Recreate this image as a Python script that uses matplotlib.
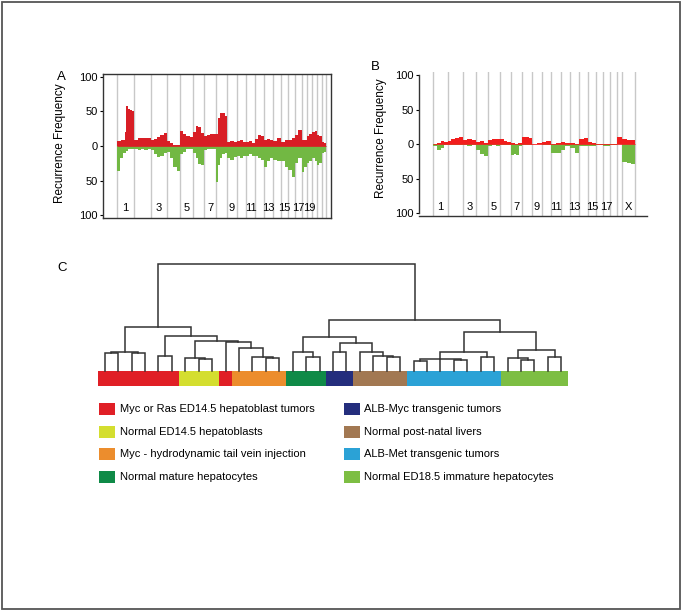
import numpy as np
import matplotlib
matplotlib.use("Agg")
import matplotlib.pyplot as plt
from matplotlib.patches import Rectangle

plt.rcParams.update({
    "font.family": ["Liberation Sans", "DejaVu Sans"],
    "font.size": 8,
})

W, H = 683, 612

# ---- panel A: chromosome widths (relative) and gain / loss frequencies ----
chrom_w_a = [17.6, 16.7, 15.7, 13.3, 12.7, 11.3, 12.0, 10.7, 10.6, 8.7, 9.0,
             9.0, 9.3, 7.4, 7.6, 6.7, 6.7, 5.0, 5.0, 5.6, 4.4, 4.3]
labels_a = ["1", "", "3", "", "5", "", "7", "", "9", "", "11", "", "13", "",
            "15", "", "17", "", "19", "", "", ""]
gain_a = [
    [7, 7, 8, 8, 20, 58, 54, 52, 50],
    [9, 11, 12, 12, 11],
    [8, 10, 13, 16, 19],
    [7, 4, 2, 2],
    [21, 17, 14, 13],
    [20, 29, 27, 19],
    [14, 16, 17, 18],
    [18, 40, 48, 47, 43],
    [6, 7, 6],
    [7, 8, 6],
    [6, 7, 5],
    [10, 16, 14],
    [8, 10, 8],
    [7, 12],
    [6, 9],
    [9, 11],
    [16, 23],
    [8, 8],
    [14, 18],
    [20, 21],
    [16, 14],
    [6, 5],
]
loss_a = [
    [-36, -18, -10, -7, -5, -5],
    [-5, -6, -4, -6, -5],
    [-6, -12, -16, -14, -10],
    [-8, -18, -30, -36],
    [-12, -8, -5, -5],
    [-10, -18, -26, -28],
    [-6, -5, -5, -4],
    [-52, -28, -18, -12, -10],
    [-18, -20, -16],
    [-15, -18, -14],
    [-14, -12, -15],
    [-15, -18, -20],
    [-30, -22, -18],
    [-20, -22],
    [-22, -30],
    [-35, -45],
    [-25, -18],
    [-38, -30],
    [-25, -22],
    [-18, -22],
    [-28, -25],
    [-10, -8],
]

# ---- panel B ----
chrom_w_b = [14.4, 15.0, 13.3, 12.3, 11.7, 11.0, 10.7, 10.6, 9.4, 9.3, 9.7,
             9.3, 9.3, 9.0, 7.7, 7.3, 6.7, 6.7, 5.6, 12.7]
labels_b = ["1", "", "3", "", "5", "", "7", "", "9", "", "11", "", "13", "",
            "15", "", "17", "", "", "X"]
gain_b = [
    [1, 2, 5, 3], [5, 8, 9, 10], [6, 7, 6], [3, 4, 2], [6, 8, 7],
    [8, 5, 3], [2, 1, 2], [10, 11, 9], [1, 2], [3, 4], [1, 2], [3, 2],
    [2, 1], [8, 9], [3, 2], [1, 1], [1, 1], [1, 1], [10, 11], [7, 6, 6],
]
loss_b = [
    [-2, -8, -6, -1], [-1, -1, -1], [-1, -2, -1], [-8, -14, -17],
    [-2, -1, -2], [-1, -1, -1], [-15, -14, -16, -2], [-1, -1], [0, 0],
    [-1, -1], [-12, -13], [-8, -2], [-5, -12], [-3, -2], [-2, -2],
    [-1, -1], [-3, -2], [-1, -1], [0, 0], [-25, -27, -28],
]

# ---- panel C: dendrogram merges (left, right, height); leaves 0..34 ----
merges = [
    (0, 1, 17.7), (2, 3, 18.3), (35, 36, 19.3), (4, 5, 15.0),
    (7, 8, 11.7), (6, 39, 12.7), (12, 13, 13.5), (11, 41, 14.3),
    (10, 42, 22.7), (9, 43, 29.3), (40, 44, 30.3), (38, 45, 34.7),
    (37, 46, 43.7), (15, 16, 14.3), (14, 48, 18.7), (17, 18, 19.3),
    (21, 22, 14.3), (20, 51, 15.3), (19, 52, 19.3), (50, 53, 27.7),
    (49, 54, 34.3), (23, 24, 10.3), (26, 27, 11.0), (56, 57, 12.0),
    (58, 25, 12.5), (28, 29, 14.3), (59, 60, 19.3), (31, 32, 11.0),
    (30, 62, 12.7), (33, 34, 14.3), (63, 64, 21.0), (61, 65, 39.3),
    (55, 66, 51.0), (47, 67, 107.0),
]
groups = ["Myc or Ras ED14.5 hepatoblast tumors", "Normal ED14.5 hepatoblasts",
          "Myc - hydrodynamic tail vein injection", "Normal mature hepatocytes",
          "ALB-Myc transgenic tumors", "Normal post-natal livers",
          "ALB-Met transgenic tumors", "Normal ED18.5 immature hepatocytes"]
group_colors = ["#E01F26", "#D4DE2F", "#EC8D2D", "#0F8A47",
                "#242E7D", "#A27852", "#2BA2D6", "#7DBE43"]
leaf_groups = [0] * 6 + [1] * 3 + [0] + [2] * 4 + [3] * 3 + [4] * 2 + [5] * 4 + [6] * 7 + [7] * 5


def px_axes(fig, x0, y0, x1, y1):
    return fig.add_axes([x0 / W, 1 - y1 / H, (x1 - x0) / W, (y1 - y0) / H])


def draw_profile(ax, widths, gains, losses, labels, red, green, ylab_y):
    edges = np.concatenate([[0], np.cumsum(widths)])
    for i, w in enumerate(widths):
        for vals, col in ((gains[i], red), (losses[i], green)):
            n = len(vals)
            xs = edges[i] + w * np.arange(n + 1) / n
            ys = list(vals) + [vals[-1]]
            ax.fill_between(xs, ys, step="post", color=col, lw=0, zorder=2)
        if labels[i]:
            ax.text(edges[i] + w / 2, ylab_y, labels[i], ha="center",
                    va="center", fontsize=8, zorder=3)
    ax.vlines(edges, -110, 110, color="#c8c8c8", lw=1.0, zorder=1)
    ax.hlines(0, edges[0], edges[-1], color=red, lw=0.6, zorder=2)
    ax.set_xticks([])
    ax.set_yticks([-100, -50, 0, 50, 100])
    ax.set_yticklabels(["100", "50", "0", "50", "100"])
    ax.tick_params(axis="y", length=2.5, pad=1.5, width=0.8, labelsize=8)


fig = plt.figure(figsize=(W / 100, H / 100), dpi=100)

ov = fig.add_axes([0, 0, 1, 1])
ov.set_xlim(0, W)
ov.set_ylim(H, 0)
ov.axis("off")
ov.add_patch(Rectangle((1.5, 1.5), 678, 607, fill=False, ec="#555555", lw=1.3))

# panel A
axA = px_axes(fig, 103, 74, 331, 218)
draw_profile(axA, chrom_w_a, gain_a, loss_a, labels_a, "#D81E25", "#72B843", -90)
axA.set_xlim(-13.7, 214.3)
axA.set_ylim(-104, 104)
for s in axA.spines.values():
    s.set_linewidth(1.0)
    s.set_color("#333333")

# panel B
axB = px_axes(fig, 419, 71.5, 647, 215.5)
draw_profile(axB, chrom_w_b, gain_b, loss_b, labels_b, "#F21D1D", "#72B843", -90)
axB.set_xlim(-14.3, 213.7)
axB.set_ylim(-103, 105)
axB.spines["top"].set_visible(False)
axB.spines["right"].set_visible(False)
axB.spines["left"].set_bounds(-100, 100)
for s in axB.spines.values():
    s.set_linewidth(1.0)
    s.set_color("#333333")

# panel C dendrogram
axC = px_axes(fig, 98, 260, 568, 390)
n_leaf = len(leaf_groups)
pos = {i: (i + 0.5, 0.0) for i in range(n_leaf)}
for k, (a, b, h) in enumerate(merges):
    xa, ha = pos[a]
    xb, hb = pos[b]
    axC.plot([xa, xa, xb, xb], [ha, h, h, hb], color="#333333", lw=1.1,
             solid_joinstyle="miter")
    pos[n_leaf + k] = ((xa + xb) / 2, h)
axC.bar(np.arange(n_leaf) + 0.5, 15, bottom=-15, width=1.0,
        color=[group_colors[g] for g in leaf_groups], lw=0)
axC.set_xlim(0, n_leaf)
axC.set_ylim(-19, 111)
axC.axis("off")

# labels and legend on the overlay
ov.text(61, 77, "A", fontsize=9.5, ha="center", va="center")
ov.text(375, 67, "B", fontsize=9.5, ha="center", va="center")
ov.text(62, 268, "C", fontsize=9.5, ha="center", va="center")
ov.text(60, 143, "Recurrence Frequency", rotation=90, ha="center", va="center", fontsize=8.5)
ov.text(381, 138, "Recurrence Frequency", rotation=90, ha="center", va="center", fontsize=8.5)

for i, (name, col) in enumerate(zip(groups, group_colors)):
    col_i, row = divmod(i, 4)
    x0 = 99 if col_i == 0 else 344
    yc = 409.2 + 22.5 * row
    ov.add_patch(Rectangle((x0, yc - 6), 15.5, 12, color=col, lw=0))
    ov.text(x0 + 20.5, yc, name, ha="left", va="center", fontsize=8)

fig.savefig("out.png", dpi=100)
